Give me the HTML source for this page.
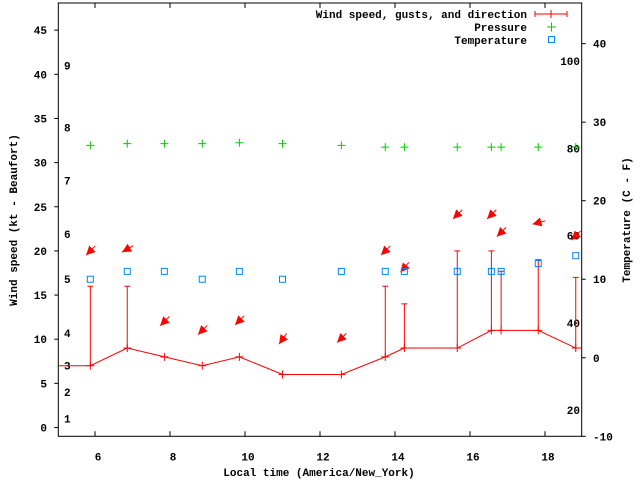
<!DOCTYPE html>
<html><head><meta charset="utf-8">
<style>
html,body{margin:0;padding:0;background:#fff;}
svg{display:block;font-family:"Liberation Mono","DejaVu Sans Mono",monospace;font-size:11px;font-weight:bold;}
</style></head>
<body>
<svg id="chart" width="640" height="480" viewBox="0 0 640 480" xmlns="http://www.w3.org/2000/svg">
<rect x="0" y="0" width="640" height="480" fill="#fff"/>
<g id="axes"></g>
<g id="series"></g>
<text transform="translate(17,220) rotate(-90)" text-anchor="middle">Wind speed (kt - Beaufort)</text>
<text transform="translate(630,220) rotate(-90)" text-anchor="middle">Temperature (C - F)</text>
<text x="319" y="476" text-anchor="middle">Local time (America/New_York)</text>
<g>
 <text x="527" y="18" text-anchor="end">Wind speed, gusts, and direction</text>
 <line x1="535" y1="14" x2="567" y2="14" stroke="#f00"/><line x1="535" y1="11" x2="535" y2="17" stroke="#f00"/><line x1="567" y1="11" x2="567" y2="17" stroke="#f00"/><line x1="551" y1="10" x2="551" y2="18" stroke="#f00"/>
 <text x="527" y="31" text-anchor="end">Pressure</text>
 <path d="M547 27h9M551.5 22.5v9" stroke="#0c0"/>
 <text x="527" y="44" text-anchor="end">Temperature</text>
 <rect x="548.5" y="36.5" width="6" height="6" fill="none" stroke="#08f"/>
</g>
</svg>
<script>
const times=[5.875,6.86,7.85,8.86,9.85,11.0,12.57,13.74,14.25,15.66,16.57,16.83,17.82,18.82];
const windSpeed=[7,9,8,7,8,6,6,8,9,9,11,11,11,9];
const windGust=[16,16,null,null,null,null,null,16,14,20,20,17.7,19,17];
const windDir=[45,60,45,45,45,35,45,45,40,45,45,45,75,45];
const arrowLevel=[20,20.2,12,11,12.1,10,10.1,20,18.1,24.1,24.1,22.1,23.2,21.7];
const temperature=[10,11,11,10,11,10,11,11,11,11,11,11,12,13];
const pressure=[80.6,81.0,81.0,81.0,81.2,81.0,80.6,80.2,80.2,80.2,80.2,80.2,80.2,80.2];
const xTicks=[6,8,10,12,14,16,18];
const yTicks=[0,5,10,15,20,25,30,35,40,45];
const y2Ticks=[-10,0,10,20,30,40];
const beaufortLabels=["1","2","3","4","5","6","7","8","9"];
const beaufortY=[1.0,4.0,7.0,10.7,16.8,21.9,28.0,34.0,41.0];
const fahrenheitLabels=["20","40","60","80","100"];

const L=58.3,R=581.7,T=3,B=436.3;
const X=t=>95+(t-6)*37.5;
const Y=v=>427.5-v*8.83;
const Y2=c=>436.3-(c+10)*7.853;
const YP=p=>148-(p-80)*4.35;
const F2C=f=>(f-32)*5/9;
const NS="http://www.w3.org/2000/svg";
function mk(parent,tag,attrs){const e=document.createElementNS(NS,tag);for(const k in attrs)e.setAttribute(k,attrs[k]);parent.appendChild(e);return e;}
const ax=document.getElementById('axes'), se=document.getElementById('series');

let frame=mk(ax,'rect',{x:L,y:T,width:R-L,height:B-T,fill:'none',stroke:'#000'});


xTicks.forEach(t=>{
  const x=X(t);
  mk(ax,'line',{x1:x,y1:B,x2:x,y2:B-5,stroke:'#000'});
  mk(ax,'line',{x1:x,y1:T,x2:x,y2:T+5,stroke:'#000'});
  const tx=mk(ax,'text',{x:x+3,y:B+24,'text-anchor':'middle'});tx.textContent=t;
  
  
});
yTicks.forEach(v=>{
  const y=Y(v);
  mk(ax,'line',{x1:L-4,y1:y,x2:L,y2:y,stroke:'#000'});
  const tx=mk(ax,'text',{x:47,y:y+4,'text-anchor':'end'});tx.textContent=v;
  
  
});
y2Ticks.forEach(v=>{
  const y=Y2(v);
  mk(ax,'line',{x1:R,y1:y,x2:R+4,y2:y,stroke:'#000'});
  const tx=mk(ax,'text',{x:593,y:y+4});tx.textContent=v;
  
  
});
beaufortLabels.forEach((s,i)=>{
  const tx=mk(ax,'text',{x:64,y:Y(beaufortY[i])+4});tx.textContent=s;
  
  
});
fahrenheitLabels.forEach(s=>{
  const tx=mk(ax,'text',{x:580,y:Y2(F2C(+s))+4,'text-anchor':'end'});tx.textContent=s;
  
  
});

// wind line
let pts=[[L,Y(windSpeed[0])]];
times.forEach((t,i)=>pts.push([X(t),Y(windSpeed[i])]));
pts.push([R,Y(windSpeed[windSpeed.length-1])]);
const wl=mk(se,'polyline',{points:pts.map(p=>p.join(',')).join(' '),fill:'none',stroke:'#f00'});


times.forEach((t,i)=>{
  const x=X(t),y=Y(windSpeed[i]);
  const g=mk(se,'g',{});
  
  
  mk(g,'line',{x1:x,y1:y-4,x2:x,y2:y+4,stroke:'#f00'});
  mk(g,'line',{x1:x-4,y1:y,x2:x+4,y2:y,stroke:'#f00'});
  if(windGust[i]!=null){
    const gy=Y(windGust[i]);
    mk(g,'line',{x1:x,y1:y,x2:x,y2:gy,stroke:'#f00'});
    mk(g,'line',{x1:x-3,y1:gy,x2:x+3,y2:gy,stroke:'#f00'});
  }
});
// arrows
times.forEach((t,i)=>{
  const cx=X(t),cy=Y(arrowLevel[i]);
  const d=windDir[i]*Math.PI/180;
  const dx=-Math.sin(d),dy=Math.cos(d);
  const tipx=cx+dx*6,tipy=cy+dy*6,tlx=cx-dx*7,tly=cy-dy*7;
  const bx=tipx-dx*9,by=tipy-dy*9,px=-dy,py=dx;
  const g=mk(se,'g',{});
  
  
  mk(g,'line',{x1:tlx,y1:tly,x2:tipx,y2:tipy,stroke:'#f00'});
  mk(g,'polygon',{points:`${tipx},${tipy} ${bx+px*4.5},${by+py*4.5} ${bx-px*4.5},${by-py*4.5}`,fill:'#f00'});
});
// pressure
times.forEach((t,i)=>{
  const x=X(t),y=YP(pressure[i]);
  const p=mk(se,'path',{d:`M${x-4} ${y}h8M${x} ${y-4}v8`,stroke:'#0c0'});
  
  
});
// temperature
times.forEach((t,i)=>{
  const x=X(t),y=Y2(temperature[i]);
  const r=mk(se,'rect',{x:x-3,y:y-3,width:6,height:6,fill:'none',stroke:'#08f'});
  
  
});
</script>
</body></html>
